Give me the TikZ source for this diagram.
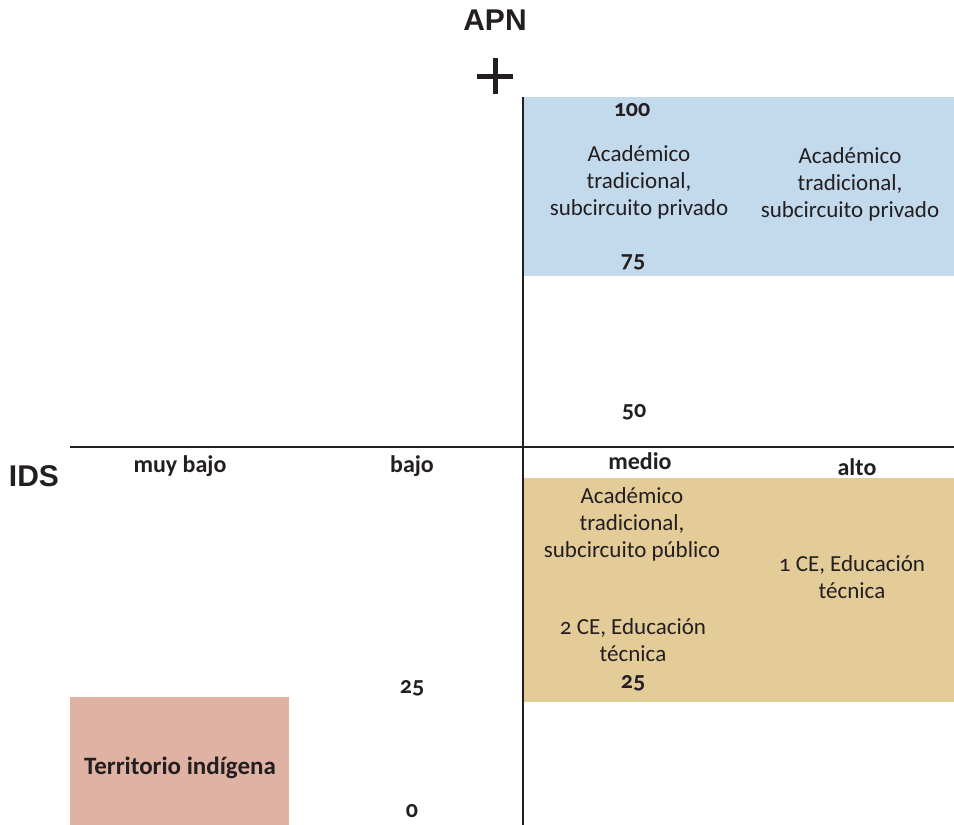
\documentclass[tikz,border=0pt]{standalone}
\usepackage{fontspec}
\setmainfont{Carlito}[Numbers=OldStyle]
\newfontfamily\arialfont{Liberation Sans}
\definecolor{bluebox}{HTML}{C3DAEC}
\definecolor{tanbox}{HTML}{E4CC98}
\definecolor{pinkbox}{HTML}{DFB2A3}
\definecolor{ink}{HTML}{231F20}
\begin{document}
\begin{tikzpicture}[x=1pt,y=-1pt,
  every node/.style={text=ink,inner sep=0pt},
  cat/.style={font=\fontsize{24}{28}\selectfont\bfseries},
  num/.style={font=\fontsize{24}{28}\selectfont\bfseries},
  txt/.style={font=\fontsize{23}{27}\selectfont,align=center},
  axis/.style={font=\arialfont\fontsize{30}{34}\selectfont\bfseries}]
\useasboundingbox (0,0) rectangle (954,825);
% regions
\fill[bluebox] (523,97) rectangle (954,276);
\fill[tanbox] (523,478) rectangle (954,702);
\fill[pinkbox] (70,697) rectangle (289,825);
% axes
\coordinate (vtop) at (523,97);
\coordinate (vbot) at (523,825);
\coordinate (hl) at (70,447);
\coordinate (hr) at (954,447);
\draw[ink,line width=1.6pt] (vtop) -- (vbot);
\draw[ink,line width=1.6pt] (hl) -- (hr);
% axis titles
\node[axis] (apn) at (495,20) {APN};
\node[axis] (ids) at (34,476) {IDS};
\coordinate (plc) at (495,76);
\draw[ink,line width=5pt] ([xshift=-18pt]plc) -- ([xshift=18pt]plc);
\draw[ink,line width=5pt] ([yshift=-18pt]plc) -- ([yshift=18pt]plc);
% categories
\node[cat] (muybajo) at (180,466) {muy bajo};
\node[cat] (bajo) at (412,466) {bajo};
\node[cat] (medio) at (640,461) {medio};
\node[cat] (alto) at (857,467) {alto};
% numbers
\node[num] (n100) at (632,110) {100};
\node[num] (n75) at (633,262) {75};
\node[num] (n50) at (634,412) {50};
\node[num] (n25a) at (633,683) {25};
\node[num] (n25b) at (412,688) {25};
\node[num] (n0) at (412,811) {0};
% texts
\node[txt] (b1) at (639,182) {Académico\\tradicional,\\subcircuito privado};
\node[txt] (b2) at (850,184) {Académico\\tradicional,\\subcircuito privado};
\node[txt] (t1) at (632,524) {Académico\\tradicional,\\subcircuito público};
\node[txt] (t2) at (852,577) {1 CE, Educación\\técnica};
\node[txt] (t3) at (633,640) {2 CE, Educación\\técnica};
\node[cat,font=\fontsize{25}{29}\selectfont\bfseries] (terr) at (180,768) {Territorio indígena};
\end{tikzpicture}
\end{document}
